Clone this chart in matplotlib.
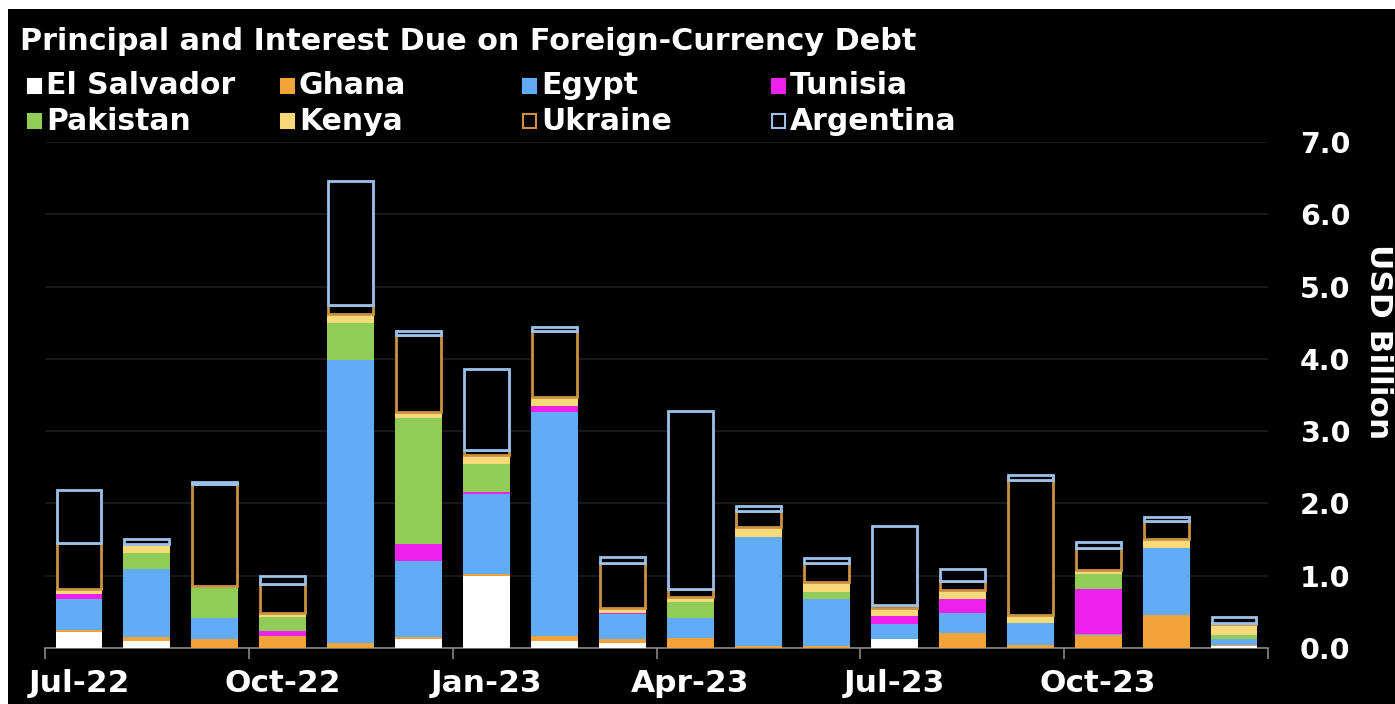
import matplotlib
matplotlib.use("Agg")
import matplotlib.pyplot as plt
import numpy as np
from matplotlib.patches import Rectangle

months = ["Jul-22", "Aug-22", "Sep-22", "Oct-22", "Nov-22", "Dec-22",
          "Jan-23", "Feb-23", "Mar-23", "Apr-23", "May-23", "Jun-23",
          "Jul-23", "Aug-23", "Sep-23", "Oct-23", "Nov-23", "Dec-23"]

# USD billion
el_salvador = [0.22, 0.10, 0.00, 0.00, 0.00, 0.12, 1.00, 0.10, 0.07, 0.00, 0.00, 0.00, 0.12, 0.00, 0.00, 0.00, 0.00, 0.03]
ghana = [0.03, 0.05, 0.12, 0.16, 0.07, 0.03, 0.02, 0.06, 0.05, 0.14, 0.03, 0.03, 0.00, 0.21, 0.04, 0.18, 0.46, 0.01]
egypt = [0.43, 0.94, 0.30, 0.00, 3.91, 1.06, 1.11, 3.10, 0.35, 0.28, 1.50, 0.65, 0.21, 0.28, 0.31, 0.02, 0.93, 0.09]
tunisia = [0.07, 0.00, 0.00, 0.07, 0.00, 0.23, 0.03, 0.09, 0.02, 0.00, 0.00, 0.00, 0.11, 0.19, 0.00, 0.61, 0.00, 0.00]
pakistan = [0.00, 0.23, 0.42, 0.20, 0.51, 1.74, 0.39, 0.00, 0.00, 0.21, 0.00, 0.09, 0.00, 0.00, 0.00, 0.21, 0.00, 0.05]
kenya = [0.07, 0.12, 0.02, 0.06, 0.13, 0.09, 0.12, 0.12, 0.07, 0.07, 0.14, 0.14, 0.12, 0.12, 0.10, 0.06, 0.12, 0.15]
ukraine = [0.63, 0.00, 1.41, 0.39, 0.13, 1.06, 0.07, 0.92, 0.62, 0.12, 0.23, 0.27, 0.03, 0.13, 1.87, 0.30, 0.25, 0.02]
argentina = [0.73, 0.07, 0.03, 0.11, 1.71, 0.06, 1.12, 0.05, 0.08, 2.46, 0.07, 0.07, 1.10, 0.16, 0.08, 0.08, 0.05, 0.08]

names = ["El Salvador", "Ghana", "Egypt", "Tunisia", "Pakistan", "Kenya", "Ukraine", "Argentina"]
series = [el_salvador, ghana, egypt, tunisia, pakistan, kenya, ukraine, argentina]
fills = ["#ffffff", "#f2a33a", "#62acf6", "#ec22ec", "#92cc58", "#f8d978", "black", "black"]
edges = ["none", "none", "none", "none", "none", "none", "#cc9244", "#9cc2ea"]

plt.rcParams["font.family"] = "DejaVu Sans"
plt.rcParams["font.weight"] = "bold"

W, H = 1395, 704
fig = plt.figure(figsize=(W / 100, H / 100), dpi=100, facecolor="white")
fig.patches.append(Rectangle((8 / W, 0), 1, 1 - 9 / H, transform=fig.transFigure,
                             facecolor="black", edgecolor="none", zorder=-10))

ax = fig.add_axes([45 / W, (H - 648) / H, (1268 - 45) / W, (648 - 142) / H])
ax.set_facecolor("black")

x = np.arange(len(months))
bottom = np.zeros(len(months))
for name, vals, fc, ec in zip(names, series, fills, edges):
    vals = np.array(vals)
    if ec == "none":
        ax.bar(x, vals, 0.69, bottom=bottom, color=fc, edgecolor="none", zorder=3)
    else:
        ax.bar(x, vals, 0.66, bottom=bottom, facecolor="black", edgecolor=ec,
               linewidth=2, zorder=3)
    bottom += vals

ax.set_xlim(-0.5, len(months) - 0.5)
ax.set_ylim(0, 7)
ax.set_yticks(np.arange(0, 8, 1))
ax.set_yticklabels([f"{v:.1f}" for v in range(8)])
ax.yaxis.tick_right()
ax.tick_params(axis="y", length=0, pad=23, labelsize=20.5, colors="white")
ax.grid(axis="y", color="#1e1e1e", linewidth=1.2, zorder=0)

ax.set_xticks(np.arange(-0.5, len(months), 3))
ax.set_xticklabels([])
ax.set_xticks(x[::3], minor=True)
ax.set_xticklabels(months[::3], minor=True)
ax.tick_params(axis="x", which="major", length=8, width=1.2, color="#888888", direction="out")
ax.tick_params(axis="x", which="minor", length=0, pad=15, labelsize=22.5, labelcolor="white")

for side in ["top", "left", "right"]:
    ax.spines[side].set_visible(False)
ax.spines["bottom"].set_color("#888888")
ax.spines["bottom"].set_linewidth(1.2)

fig.text(1378 / W, 1 - 342 / H, "USD Billion", rotation=-90, color="white",
         fontsize=22.5, fontweight="bold", ha="center", va="center")

fig.text(20 / W, 1 - 41 / H, "Principal and Interest Due on Foreign-Currency Debt",
         color="white", fontsize=21.8, fontweight="bold", ha="left", va="center")

# legend, two rows of four
col_x = [28, 281, 523, 772]
row_y = [86, 121]
for i, (name, fc, ec) in enumerate(zip(names, fills, edges)):
    cx = col_x[i % 4]
    cy = row_y[i // 4]
    fig.patches.append(Rectangle((cx / W, 1 - (cy + 7) / H), 13 / W, 14 / H,
                                 transform=fig.transFigure, facecolor=fc,
                                 edgecolor=ec if ec != "none" else fc, linewidth=1.5))
    fig.text((cx + 18) / W, 1 - cy / H, name, color="white", fontsize=21.5,
             fontweight="bold", ha="left", va="center")

fig.savefig("out.png", dpi=100, facecolor=fig.get_facecolor())
